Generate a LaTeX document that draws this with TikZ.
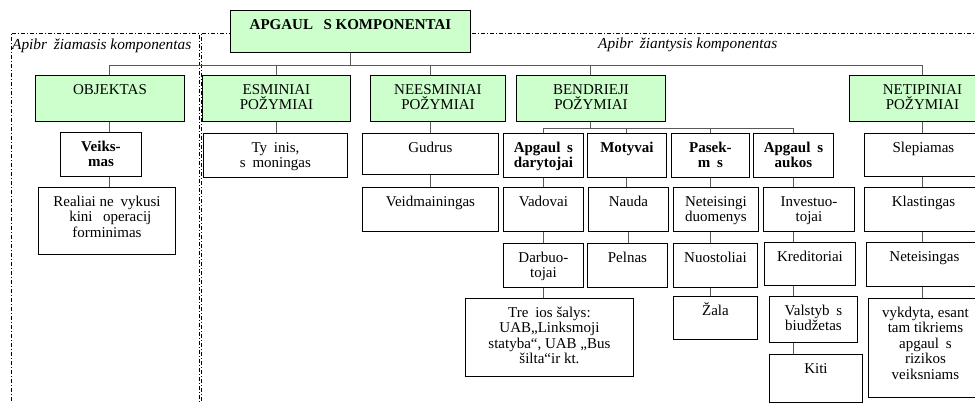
\documentclass[tikz,border=0pt]{standalone}
\usepackage{fontspec}
\setmainfont{Liberation Serif}
\definecolor{boxgreen}{HTML}{CCFFCC}
% box of given width and height (pt), text centred and set from the top
\newcommand{\cellbox}[3]{\parbox[c][#2pt][t]{#1pt}{\centering\rule{0pt}{19pt}#3}}
% gap left by a letter the font did not have
\newcommand{\gap}{\hspace{0.45em}}

\begin{document}
\begin{tikzpicture}[x=1pt,y=-1pt]
\tikzset{
  cell/.style={draw,line width=0.9pt,fill=white,anchor=north west,inner sep=0pt,
    font=\fontsize{15}{15.5}\selectfont},
  headcell/.style={cell,fill=boxgreen},
  boldcell/.style={cell,font=\fontsize{15}{15.5}\selectfont\bfseries},
  link/.style={draw=black!65,line width=1pt},
  zone/.style={line width=0.8pt,dash pattern=on 4pt off 2pt on 1pt off 2pt},
  zonelabel/.style={anchor=base west,inner sep=0pt,font=\fontsize{15.3}{15}\selectfont\itshape}
}
\useasboundingbox (0,0) rectangle (975,403);
\clip (0,0) rectangle (975,403);

% zones
\draw[zone] (11,410) |- (199,33) -- (199,410);
\draw[zone] (201,410) |- (990,33);
\node[zonelabel] (l_left) at (12,50) {Apibr\gap žiamasis komponentas};
\node[zonelabel] (l_right) at (598,49) {Apibr\gap žiantysis komponentas};

% top
\node[headcell,font=\fontsize{15}{15}\selectfont\bfseries] (n_top) at (230,10) {\cellbox{240}{42}{APGAUL\hspace{0.7em}S KOMPONENTAI}};

% level 1
\node[headcell] (n_obj) at (35,75) {\cellbox{149}{46}{OBJEKTAS}};
\node[headcell] (n_esm) at (202,75) {\cellbox{148}{46}{ESMINIAI\\POŽYMIAI}};
\node[headcell] (n_nees) at (370,75) {\cellbox{135}{46}{NEESMINIAI\\POŽYMIAI}};
\node[headcell] (n_bend) at (516,75) {\cellbox{149}{46}{BENDRIEJI\\POŽYMIAI}};
\node[headcell] (n_netip) at (849,75) {\cellbox{146}{46}{NETIPINIAI\\POŽYMIAI}};

% level 2
\node[boldcell] (n_veiks) at (60,132) {\cellbox{81}{44}{Veiks-\\mas}};
\node[cell] (n_tyc) at (203,133) {\cellbox{144}{44}{Ty\gap inis,\\s\gap moningas}};
\node[cell] (n_gudr) at (362,133) {\cellbox{136}{41}{Gudrus}};
\node[boldcell] (n_dar) at (503,133) {\cellbox{80}{44}{Apgaul\gap s\\darytojai}};
\node[boldcell] (n_mot) at (587,133) {\cellbox{79}{44}{Motyvai}};
\node[boldcell] (n_pas) at (671,133) {\cellbox{78}{44}{Pasek-\\m\gap s}};
\node[boldcell] (n_auk) at (753,133) {\cellbox{80}{44}{Apgaul\gap s\\aukos}};
\node[cell] (n_slep) at (864,133) {\cellbox{118}{43}{Slepiamas}};

% level 3
\node[cell] (n_real) at (38,187) {\cellbox{137}{67}{Realiai ne\gap vykusi\\\gap kini\gap\ operacij\\forminimas}};
\node[cell] (n_veid) at (362,187) {\cellbox{136}{44}{Veidmainingas}};
\node[cell] (n_vad) at (503,187) {\cellbox{80}{44}{Vadovai}};
\node[cell] (n_nau) at (588,187) {\cellbox{80}{44}{Nauda}};
\node[cell] (n_netd) at (673,187) {\cellbox{85}{44}{Neteisingi\\duomenys}};
\node[cell] (n_inv) at (763,187) {\cellbox{91}{44}{Investuo-\\tojai}};
\node[cell] (n_klas) at (864,187) {\cellbox{118}{44}{Klastingas}};

% level 4
\node[cell] (n_darb) at (503,243) {\cellbox{80}{44}{Darbuo-\\tojai}};
\node[cell] (n_pel) at (587,243) {\cellbox{80}{44}{Pelnas}};
\node[cell] (n_nuo) at (673,243) {\cellbox{84}{44}{Nuostoliai}};
\node[cell] (n_kred) at (764,242) {\cellbox{91}{43}{Kreditoriai}};
\node[cell] (n_netg) at (866,242) {\cellbox{116}{44}{Neteisingas}};

% level 5
\node[cell] (n_trec) at (465,298) {\cellbox{168}{78}{Tre\gap ios šalys:\\UAB„Linksmoji\\statyba“, UAB „Bus\\šilta“ir kt.}};
\node[cell] (n_zal) at (673,296) {\cellbox{84}{43}{Žala}};
\node[cell] (n_valst) at (769,296) {\cellbox{88}{46}{Valstyb\gap s\\biudžetas}};
\node[cell] (n_vykd) at (868,298) {\cellbox{114}{99}{vykdyta, esant\\tam tikriems\\apgaul\gap s\\rizikos\\veiksniams}};
\node[cell] (n_kiti) at (769,354) {\cellbox{93}{48}{Kiti}};

% links
\draw[link] (n_top.south) -- ++(0,13) -| (n_obj.north);
\draw[link] (n_top.south) -- ++(0,13) -| (n_esm.north);
\draw[link] (n_top.south) -- ++(0,13) -| (n_nees.north -| n_gudr);
\draw[link] (n_top.south) -- ++(0,13) -| (n_bend.north);
\draw[link] (n_top.south) -- ++(0,13) -| (n_netip.north);

\draw[link] (n_obj.south) -- (n_obj.south |- n_veiks.north);
\draw[link] (n_veiks.south -| n_obj) -- (n_real.north -| n_obj);
\draw[link] (n_esm.south) -- (n_esm.south |- n_tyc.north);
\draw[link] (n_nees.south -| n_gudr) -- (n_gudr.north);
\draw[link] (n_gudr.south) -- (n_veid.north);

\draw[link] (n_bend.south) -- ++(0,7) -| (n_dar.north);
\draw[link] (n_bend.south) -- ++(0,7) -| (n_mot.north);
\draw[link] (n_bend.south) -- ++(0,7) -| (n_pas.north);
\draw[link] (n_bend.south) -- ++(0,7) -| (n_auk.north);

\draw[link] (n_dar.south) -- (n_vad.north);
\draw[link] (n_vad.south) -- (n_darb.north);
\draw[link] (n_darb.south) -- (n_darb.south |- n_trec.north);
\draw[link] (n_mot.south) -- (n_mot.south |- n_nau.north);
\draw[link] (n_nau.south) -- (n_nau.south |- n_pel.north);
\draw[link] (n_pas.south) -- (n_pas.south |- n_netd.north);
\draw[link] (n_netd.south -| n_pas) -- (n_nuo.north -| n_pas);
\draw[link] (n_nuo.south -| n_pas) -- (n_zal.north -| n_pas);
\draw[link] (n_auk.south) -- (n_auk.south |- n_inv.north);
\draw[link] (n_inv.south -| n_auk) -- (n_kred.north -| n_auk);
\draw[link] (n_kred.south -| n_auk) -- (n_valst.north -| n_auk);
\draw[link] (n_valst.south -| n_auk) -- (n_kiti.north -| n_auk);
\draw[link] (n_netip.south) -- (n_netip.south |- n_slep.north);
\draw[link] (n_slep.south -| n_netip) -- (n_klas.north -| n_netip);
\draw[link] (n_klas.south -| n_netip) -- (n_netg.north -| n_netip);
\draw[link] (n_netg.south -| n_netip) -- (n_vykd.north -| n_netip);
\end{tikzpicture}
\end{document}
